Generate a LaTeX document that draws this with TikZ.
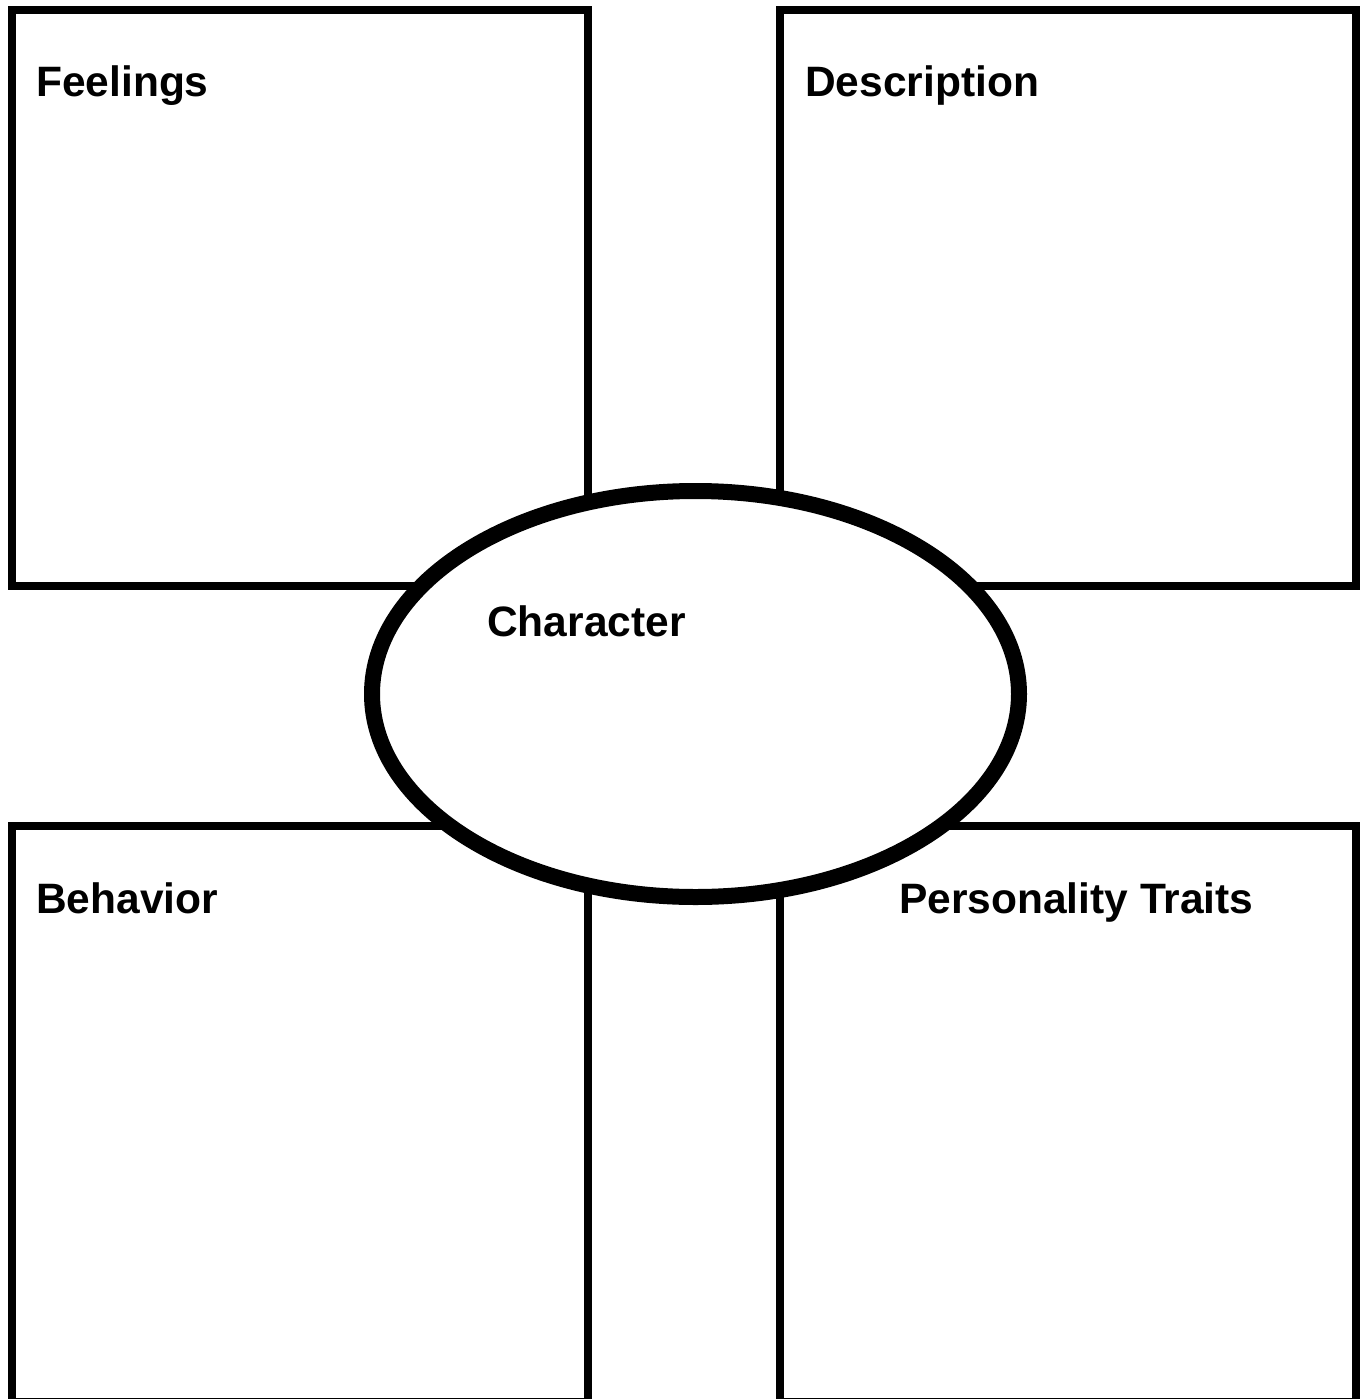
\documentclass[tikz,border=0pt]{standalone}
\usepackage{fontspec}
\setmainfont{Liberation Sans}
\usetikzlibrary{shapes.geometric}
\begin{document}
\begin{tikzpicture}[x=1pt,y=-1pt,
  boxsq/.style={draw=black, line width=8pt, rectangle, inner sep=0pt, outer sep=0pt, minimum width=576pt, minimum height=576pt, fill=white},
  hub/.style={draw=black, line width=16pt, ellipse, inner sep=0pt, outer sep=0pt, minimum width=647pt, minimum height=406pt, fill=white},
  lbl/.style={anchor=base west, inner sep=0pt, font=\fontsize{42.5}{50}\selectfont\bfseries}]
\useasboundingbox (0,0) rectangle (1369,1399);
\clip (0,0) rectangle (1369,1399);
\fill[white] (0,0) rectangle (1369,1399);
\node[boxsq] (tl) at (300,298) {};
\node[boxsq] (tr) at (1068,298) {};
\node[boxsq] (bl) at (300,1114) {};
\node[boxsq] (br) at (1068,1114) {};
\node[hub] (c) at (695.5,694) {};
\node[lbl] (tlt) at (36,97) {Feelings};
\node[lbl] (trt) at (805,97) {Description};
\node[lbl] (ct) at (487,636) {Character};
\node[lbl] (blt) at (36,913) {Behavior};
\node[lbl] (brt) at (899,913) {Personality Traits};
\end{tikzpicture}
\end{document}
